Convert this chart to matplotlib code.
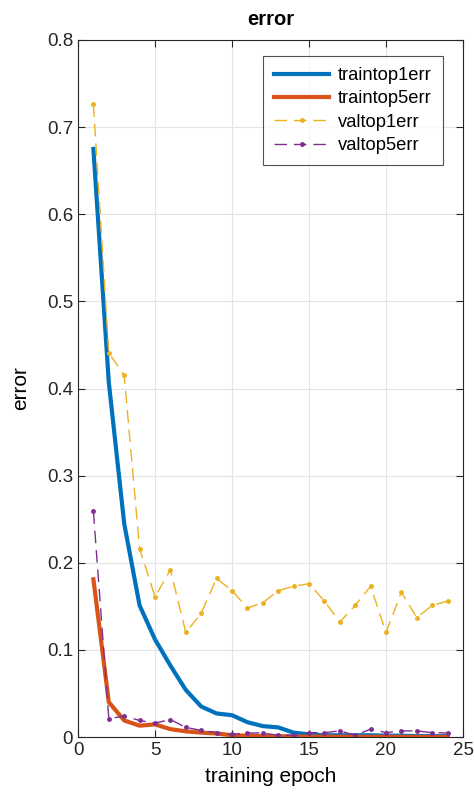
import matplotlib.pyplot as plt
import numpy as np

plt.rcParams["font.family"] = ["Liberation Sans", "DejaVu Sans"]

epochs = np.arange(1, 25)
traintop1err = [0.675, 0.407, 0.245, 0.151, 0.112, 0.082, 0.054, 0.035, 0.027, 0.025,
                0.017, 0.0125, 0.011, 0.005, 0.003, 0.002, 0.002, 0.002, 0.002, 0.0015,
                0.0015, 0.001, 0.001, 0.001]
traintop5err = [0.181, 0.040, 0.019, 0.013, 0.0145, 0.009, 0.0065, 0.005, 0.004, 0.002,
                0.0015, 0.001, 0.001, 0.0005, 0.0005, 0.0004, 0.0003, 0.0003, 0.0002, 0.0002,
                0.0002, 0.0001, 0.0001, 0.0001]
valtop1err = [0.726, 0.441, 0.415, 0.216, 0.161, 0.192, 0.120, 0.142, 0.182, 0.168,
              0.148, 0.154, 0.168, 0.173, 0.176, 0.156, 0.132, 0.151, 0.173, 0.120,
              0.166, 0.137, 0.151, 0.156]
valtop5err = [0.259, 0.021, 0.024, 0.019, 0.016, 0.020, 0.011, 0.0076, 0.005, 0.003,
              0.0046, 0.0046, 0.002, 0.002, 0.005, 0.005, 0.007, 0.002, 0.009, 0.005,
              0.007, 0.007, 0.005, 0.0046]

blue = "#0072BD"
orange = "#D95319"
yellow = "#EDB120"
purple = "#7E2F8E"

fig = plt.figure(figsize=(4.74, 8), dpi=100)
ax = fig.add_axes([78 / 474, 63 / 800, 385 / 474, 697 / 800])

ax.plot(epochs, traintop1err, color=blue, lw=3, label="traintop1err")
ax.plot(epochs, traintop5err, color=orange, lw=3, label="traintop5err")
ax.plot(epochs, valtop1err, color=yellow, lw=1, ls=(0, (9, 5)), marker=".", ms=5,
        label="valtop1err")
ax.plot(epochs, valtop5err, color=purple, lw=1, ls=(0, (9, 5)), marker=".", ms=5,
        label="valtop5err")

ax.set_xlim(0, 25)
ax.set_ylim(0, 0.8)
ax.set_xticks([0, 5, 10, 15, 20, 25])
ax.set_yticks(np.arange(0, 0.81, 0.1))
ax.set_yticklabels(["0", "0.1", "0.2", "0.3", "0.4", "0.5", "0.6", "0.7", "0.8"])
ax.grid(True, color="#e3e3e3", lw=0.8)
ax.set_axisbelow(True)
ax.tick_params(direction="in", top=True, right=True, labelsize=13.5, length=5,
               colors="#262626")
for s in ax.spines.values():
    s.set_color("#262626")
    s.set_linewidth(0.8)

ax.set_title("error", fontsize=14.5, fontweight="bold", pad=11)
ax.set_xlabel("training epoch", fontsize=15, labelpad=6)
ax.set_ylabel("error", fontsize=15, labelpad=12)

leg = ax.legend(loc="upper right", bbox_to_anchor=(0.948, 0.977), fontsize=13.2,
                frameon=True, fancybox=False, edgecolor="#262626",
                handlelength=3.0, handletextpad=0.5, borderpad=0.6,
                labelspacing=0.35, borderaxespad=0, numpoints=1)
leg.get_frame().set_linewidth(0.8)

fig.savefig("out.png", dpi=100)
